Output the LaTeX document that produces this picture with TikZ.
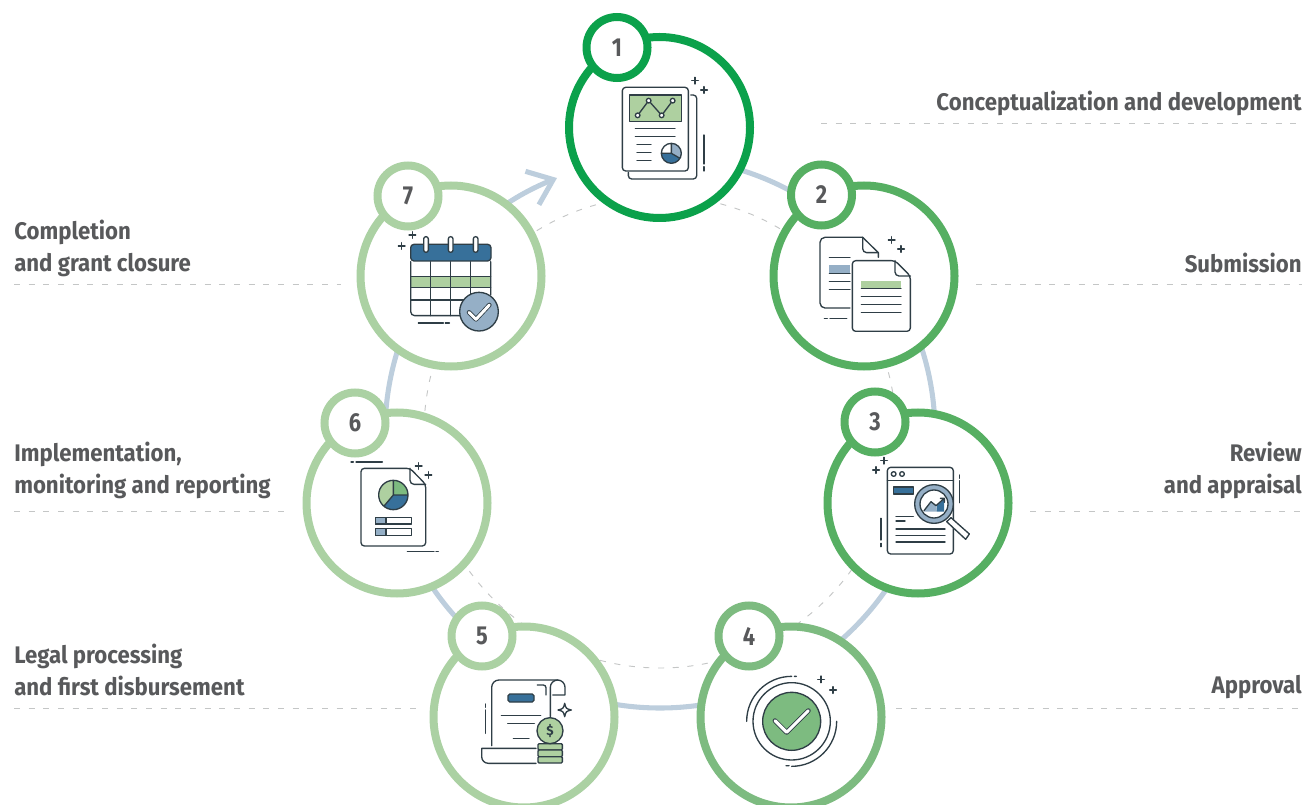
\documentclass[tikz,border=0pt]{standalone}
\usepackage{fontspec}
\setmainfont{Fira Sans}
\newfontfamily\labfont{Fira Sans}[FakeStretch=0.925]
\newfontfamily\numfont{Fira Sans}[FakeStretch=0.84]
\usetikzlibrary{arrows.meta}
\definecolor{cA}{HTML}{0BA14B}
\definecolor{cB}{HTML}{56AF62}
\definecolor{cC}{HTML}{7DBB80}
\definecolor{cD}{HTML}{ABD1A3}
\definecolor{ringc}{HTML}{BDCEDD}
\definecolor{dashc}{HTML}{C4C6C6}
\definecolor{txt}{HTML}{58595B}
\definecolor{ink}{HTML}{2F3E46}
\definecolor{iblue}{HTML}{37709A}
\definecolor{ilight}{HTML}{95AFC6}
\definecolor{igreen}{HTML}{AED0A0}
\tikzset{
  bigc/.style={circle,draw=#1,fill=white,line width=6pt,minimum size=135.75pt,inner sep=0pt},
  smallc/.style={circle,draw=#1,fill=white,line width=6pt,minimum size=45.75pt,inner sep=0pt,text=txt,font=\numfont\bfseries\fontsize{19.5}{19.5}\selectfont},
  lab/.style={text=txt,font=\labfont\bfseries\fontsize{18}{24}\selectfont,inner sep=0pt},
  leader/.style={dashc,line width=0.7pt,dash pattern=on 4.5pt off 6.5pt},
  icon/.style={ink,line width=1pt,line cap=round,line join=round},
  iconb/.style={draw=ink,line width=1pt,line join=round},
  zoomed/.style={x=0.25pt,y=-0.25pt}
}
\newcommand\plusat[2]{\draw[icon] ({#1-10},#2)--({#1+10},#2) ({#1},{#2-10})--({#1},{#2+10});}
\begin{document}
\begin{tikzpicture}[x=0.75pt,y=-0.75pt]
\useasboundingbox (0,0) rectangle (1306,805);
\clip (0,0) rectangle (1306,805);
% rings
\coordinate (ringstart) at (660,158);
\draw[ringc,line width=3.8pt,-{Straight Barb[length=17pt,width=27pt]}] (ringstart) arc[start angle=-90,end angle=248,radius=275];
\draw[dashc,line width=0.7pt,dash pattern=on 4.5pt off 6.5pt] (660,432) circle[radius=236];
% leaders
\foreach \n/\xa/\xb/\yy in {a/821/1302/123,b/976/1302/284,c/1030/1302/511,d/896/1302/708,e/14/341/284,f/14/290/511,g/14/418/708}{
  \coordinate (la\n) at (\xa,\yy);
  \coordinate (lb\n) at (\xb,\yy);
  \draw[leader] (la\n) -- (lb\n);
}
% labels
\node[lab,anchor=east,align=right] (t1) at (1302,103) {Conceptualization and development};
\node[lab,anchor=east,align=right] (t2) at (1302,262.5) {Submission};
\node[lab,anchor=east,align=right] (t3) at (1302,470) {Review\\and appraisal};
\node[lab,anchor=east,align=right] (t4) at (1302,687.5) {Approval};
\node[lab,anchor=west,align=left] (t5) at (14,669.5) {Legal processing\\and first disbursement};
\node[lab,anchor=west,align=left] (t6) at (14,470) {Implementation,\\monitoring and reporting};
\node[lab,anchor=west,align=left] (t7) at (14,248) {Completion\\and grant closure};
% circles
\node[bigc=cA] (c1) at (659.5,127.5) {};
\node[bigc=cB] (c2) at (864,276) {};
\node[bigc=cB] (c3) at (918,503) {};
\node[bigc=cC] (c4) at (791,717) {};
\node[bigc=cD] (c5) at (524,717) {};
\node[bigc=cD] (c6) at (397,503) {};
\node[bigc=cD] (c7) at (451,276) {};
\node[smallc=cA] (n1) at (617,47.5) {1};
\node[smallc=cB] (n2) at (821.5,195) {2};
\node[smallc=cB] (n3) at (875,422) {3};
\node[smallc=cC] (n4) at (749,636) {4};
\node[smallc=cD] (n5) at (482,636) {5};
\node[smallc=cD] (n6) at (355,423) {6};
\node[smallc=cD] (n7) at (408,196) {7};
% icon 1
\begin{scope}[shift={(560,10)},zoomed]
\draw[icon] (392,255)--(400,255) arc[start angle=-90,end angle=0,radius=10]--(410,497) arc[start angle=0,end angle=90,radius=10]--(215,507) arc[start angle=90,end angle=180,radius=10]--(205,487);
\draw[iconb,fill=white,rounded corners=2.5pt] (187,232) rectangle (385,483);
\draw[iconb,fill=igreen] (208,255) rectangle (364,334);
\draw[icon] (233,316)--(266,272)--(305,316)--(338,272);
\foreach \p in {(233,316),(266,272),(305,316),(338,272)} \draw[iconb,fill=white] \p circle[radius=7];
\draw[icon] (226,356)--(345,356) (226,380)--(345,380) (231,404)--(273,404) (231,428)--(273,428) (231,452)--(273,452);
\fill[white] (334,430) circle[radius=30];
\fill[ilight] (334,430)--(334,400) arc[start angle=-90,end angle=30,radius=30]--cycle;
\fill[iblue] (334,430)--(360,445) arc[start angle=30,end angle=180,radius=30]--cycle;
\draw[icon] (334,430) circle[radius=30] (334,400)--(334,430)--(360,445) (334,430)--(304,430);
\draw[icon] (432,375)--(432,462) (432,470)--(432,483);
\plusat{405}{212}\plusat{432}{240}
\end{scope}
% icon 2
\begin{scope}[shift={(770,170)},zoomed]
\draw[icon] (240,414)--(165,414) arc[start angle=90,end angle=180,radius=15]--(150,217) arc[start angle=180,end angle=270,radius=15]--(278,202)--(325,248)--(325,262);
\draw[icon] (278,202)--(278,236) arc[start angle=180,end angle=90,radius=12]--(325,248);
\draw[icon] (178,262)--(240,262) (178,334)--(240,334) (178,358)--(240,358) (163,445)--(172,445) (180,445)--(230,445);
\fill[ilight] (178,286) rectangle (240,310);
\draw[icon] (178,310)--(240,310);
\draw[iconb,fill=white,rounded corners=2.5pt] (375,272)--(247,272)--(247,484)--(421,484)--(421,318)--cycle;
\draw[icon] (375,272)--(375,306) arc[start angle=180,end angle=90,radius=12]--(421,318);
\fill[igreen] (274,332) rectangle (393,356);
\draw[icon] (274,356)--(393,356) (274,380)--(393,380) (274,404)--(393,404) (274,428)--(393,428);
\plusat{365}{210}\plusat{393}{237}
\end{scope}
% icon 3
\begin{scope}[shift={(825,390)},zoomed]
\draw[iconb,fill=white,rounded corners=2.5pt] (187,232) rectangle (385,492);
\draw[icon] (187,271)--(385,271);
\draw[iconb] (206,252) circle[radius=7] (231,252) circle[radius=7];
\draw[iconb,fill=iblue] (205,291) rectangle (265,312);
\draw[icon] (213,379)--(265,379) (213,393)--(240,393) (213,417)--(360,417) (213,436)--(360,436) (213,456)--(360,456);
\draw[iconb,fill=white] (378,383)--(433,432)--(422,448)--(365,395)--cycle;
\draw[iconb,fill=ilight] (327,342) circle[radius=58];
\draw[iconb,fill=white] (327,342) circle[radius=42];
\fill[ilight] (297,365)--(318,337)--(333,347)--(335,365)--cycle;
\fill[iblue] (335,365)--(335,347)--(357,328)--(357,365)--cycle;
\draw[icon] (297,362)--(318,335)--(333,347)--(358,325) (346,325)--(358,325)--(358,337);
\draw[icon] (403,255)--(403,265) (403,272)--(403,338) (168,385)--(168,450) (168,460)--(168,470);
\plusat{177}{212}\plusat{153}{240}
\end{scope}
% icon 4
\begin{scope}[shift={(695,600)},zoomed]
\draw[iconb,fill=cC] (290,364) circle[radius=87];
\draw[iconb] (290,364) circle[radius=116];
\draw[icon] (155,364) arc[start angle=180,end angle=270,radius=135] (298,229)--(304,229);
\draw[icon] (425,364) arc[start angle=0,end angle=90,radius=135] (273,497)--(282,497);
\draw[ink,line width=3.6pt,line cap=round,line join=round] (240,362)--(275,397)--(340,332);
\draw[white,line width=2.3pt,line cap=round,line join=round] (240,362)--(275,397)--(340,332);
\plusat{378}{238}\plusat{414}{270}
\end{scope}
% icon 5
\begin{scope}[shift={(430,600)},zoomed]
\draw[icon] (185,437)--(185,262) arc[start angle=180,end angle=270,radius=22]--(383,240) arc[start angle=-90,end angle=0,radius=22]--(405,285)--(368,285);
\draw[icon] (383,240) arc[start angle=-90,end angle=-180,radius=22]--(361,350);
\draw[icon] (322,255)--(340,255) arc[start angle=-90,end angle=0,radius=8]--(348,285);
\draw[iconb,fill=iblue,rounded corners=1.3pt] (234,282) rectangle (312,306);
\draw[icon] (214,347)--(332,347) (233,371)--(313,371) (250,415)--(297,415);
\draw[icon] (166,312)--(166,322) (166,330)--(166,400);
\draw[icon] (318,445)--(155,445)--(155,470) arc[start angle=180,end angle=90,radius=20]--(318,490);
\draw[iconb,fill=igreen,rounded corners=0.8pt] (324,431) rectangle (397,450);
\draw[iconb,fill=igreen,rounded corners=0.8pt] (324,450) rectangle (397,470);
\draw[iconb,fill=igreen,rounded corners=0.8pt] (324,470) rectangle (397,489);
\node[circle,draw=ink,fill=igreen,line width=1pt,minimum size=19.5pt,inner sep=0pt,text=ink,font=\bfseries\fontsize{10}{10}\selectfont] (coin) at (360,392) {\$};
\draw[iconb] (404,310) .. controls (408,326) .. (424,330) .. controls (408,334) .. (404,350) .. controls (400,334) .. (384,330) .. controls (400,326) .. cycle;
\end{scope}
% icon 6
\begin{scope}[shift={(300,385)},zoomed]
\draw[iconb,fill=white,rounded corners=2.5pt] (330,250)--(183,250)--(183,483)--(377,483)--(377,298)--cycle;
\draw[icon] (330,250)--(330,286) arc[start angle=180,end angle=90,radius=12]--(377,298);
\fill[igreen] (280,330) circle[radius=44];
\fill[cC] (280,330)--(280,286) arc[start angle=-90,end angle=0,radius=44]--cycle;
\fill[iblue] (280,330)--(324,330) arc[start angle=0,end angle=130,radius=44]--cycle;
\draw[icon] (280,330) circle[radius=44] (280,286)--(280,330)--(324,330) (280,330)--(251.7,363.7);
\draw[iconb,fill=white] (226,397) rectangle (334,417);
\draw[iconb,fill=ilight] (226,397) rectangle (258,417);
\draw[iconb,fill=white] (226,431) rectangle (334,451);
\draw[iconb,fill=ilight] (226,431) rectangle (258,451);
\draw[icon] (153,231)--(160,231) (168,231)--(247,231) (322,500)--(402,500) (408,500)--(415,500);
\plusat{356}{243}\plusat{385}{270}
\end{scope}
% icon 7
\begin{scope}[shift={(350,155)},zoomed]
\fill[igreen] (182,364) rectangle (422,398);
\draw[icon] (242,320)--(242,482) (302,320)--(302,482) (362,320)--(362,482) (182,364)--(422,364) (182,398)--(422,398) (182,435)--(422,435);
\draw[icon] (182,320)--(182,470) arc[start angle=180,end angle=90,radius=12]--(422,482) (422,320)--(422,420);
\draw[iconb,fill=iblue,rounded corners=2.5pt] (182,318)--(182,268)--(423,268)--(423,318)--cycle;
\foreach \x in {228,302,377} \draw[iconb,fill=white,rounded corners=1.7pt] (\x-7,245) rectangle (\x+7,292);
\draw[iconb,fill=ilight] (387,470) circle[radius=58];
\draw[ink,line width=3.4pt,line cap=round,line join=round] (357,472)--(378,493)--(418,450);
\draw[white,line width=2.2pt,line cap=round,line join=round] (357,472)--(378,493)--(418,450);
\draw[icon] (205,504)--(280,504) (286,504)--(298,504);
\plusat{187}{240}\plusat{155}{273}
\end{scope}
\end{tikzpicture}
\end{document}
